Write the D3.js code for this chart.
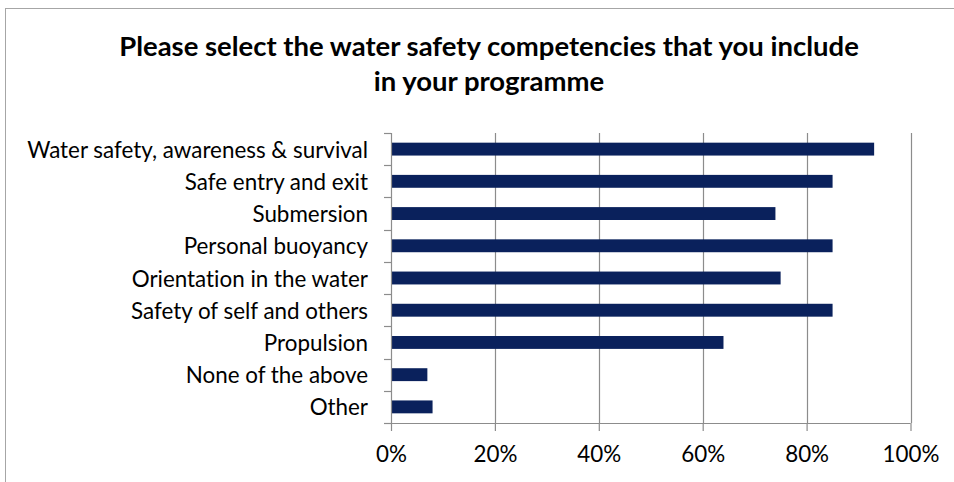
<!DOCTYPE html>
<html>
<head>
<meta charset="utf-8">
<script src="https://cdn.jsdelivr.net/npm/d3@7"></script>
<style>
  html, body { margin: 0; padding: 0; background: #fff; }
  svg { display: block; }
  text { font-family: Lato, "Open Sans", sans-serif; fill: #000; font-variant-ligatures: none; }
</style>
</head>
<body>
<svg id="chart" width="954" height="482"></svg>
<script>
// Survey responses: share of programmes including each competency
const categories = [
  "Water safety, awareness & survival",
  "Safe entry and exit",
  "Submersion",
  "Personal buoyancy",
  "Orientation in the water",
  "Safety of self and others",
  "Propulsion",
  "None of the above",
  "Other"
];
const values = [93, 85, 74, 85, 75, 85, 64, 7, 8];
const tickValues = [0, 20, 40, 60, 80, 100];
const titleLines = [
  "Please select the water safety competencies that you include",
  "in your programme"
];

const svg = d3.select("#chart");
const margin = { left: 391, right: 954 - 910.5, top: 133, bottom: 482 - 423 };
const width = 954, height = 482;

// outer chart frame
svg.append("rect")
  .attr("x", 5.5).attr("y", 8.5)
  .attr("width", 1200).attr("height", 1200)
  .attr("fill", "none").attr("stroke", "#a6a6a6").attr("stroke-width", 1);

const x = d3.scaleLinear().domain([0, 100]).range([margin.left, width - margin.right]);
const y = d3.scaleBand().domain(categories).range([margin.top, height - margin.bottom]).paddingInner(0.6).paddingOuter(0.3);
const yTicks = d3.scaleBand().domain(categories).range([margin.top, height - margin.bottom]);

const gridColor = "#8c8c8c";

// vertical gridlines
svg.append("g").selectAll("line").data(tickValues.slice(1)).join("line")
  .attr("x1", d => Math.round(x(d)) + 0.5).attr("x2", d => Math.round(x(d)) + 0.5)
  .attr("y1", margin.top).attr("y2", height - margin.bottom)
  .attr("stroke", gridColor).attr("stroke-width", 1.2);

// bars
svg.append("g").selectAll("rect").data(categories).join("rect")
  .attr("x", x(0))
  .attr("y", d => y(d))
  .attr("width", (d, i) => x(values[i]) - x(0))
  .attr("height", y.bandwidth())
  .attr("fill", "#0a215c");

// x axis
const xAxis = d3.axisBottom(x).tickValues(tickValues).tickFormat(d => d + "%").tickSize(8).tickPadding(15);
const gx = svg.append("g").attr("transform", `translate(0,${height - margin.bottom})`).call(xAxis);
gx.select(".domain").attr("stroke", gridColor).attr("stroke-width", 1.2)
  .attr("d", `M${x(0)},0.5H${x(100)}`);
gx.selectAll(".tick line").attr("stroke", gridColor).attr("stroke-width", 1.2);
gx.selectAll(".tick text").attr("font-size", 18).attr("dy", "0.71em");

// y axis: category ticks on band boundaries
const gy = svg.append("g");
gy.append("line")
  .attr("x1", x(0) + 0.5).attr("x2", x(0) + 0.5)
  .attr("y1", margin.top).attr("y2", height - margin.bottom)
  .attr("stroke", gridColor).attr("stroke-width", 1.2);
const boundaries = categories.map(c => yTicks(c)).concat([height - margin.bottom]);
gy.selectAll("line.tk").data(boundaries).join("line").attr("class", "tk")
  .attr("x1", x(0) - 7).attr("x2", x(0))
  .attr("y1", d => Math.round(d) + 0.5).attr("y2", d => Math.round(d) + 0.5)
  .attr("stroke", gridColor).attr("stroke-width", 1.2);
const labels = gy.selectAll("text").data(categories).join("text")
  .attr("x", 368)
  .attr("y", d => yTicks(d) + yTicks.bandwidth() / 2)
  .attr("dy", "0.38em")
  .attr("text-anchor", "end")
  .attr("font-size", 18)
  .text(d => d);

// fit label font size so the longest label spans its measured width
const longest = labels.filter((d, i) => i === 0).node();
const labelSize = 18 * 341 / longest.getComputedTextLength();
labels.attr("font-size", labelSize);
gx.selectAll(".tick text").attr("font-size", labelSize);

// title
const title = svg.append("g").selectAll("text").data(titleLines).join("text")
  .attr("x", 489).attr("y", (d, i) => 56 + i * 35)
  .attr("text-anchor", "middle")
  .attr("font-weight", "bold")
  .attr("font-size", 22)
  .text(d => d);
const tSize = 22 * 740 / title.filter((d, i) => i === 0).node().getComputedTextLength();
title.attr("font-size", tSize);
</script>
</body>
</html>
